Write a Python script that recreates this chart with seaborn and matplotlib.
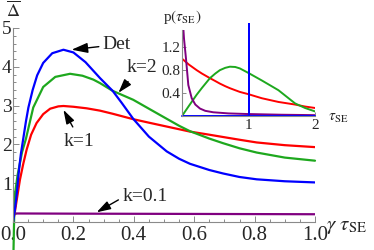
import matplotlib
matplotlib.use("Agg")
import matplotlib.pyplot as plt
import seaborn as sns
import pandas as pd
from matplotlib.ticker import MultipleLocator

# main panel: mean Delta vs gamma*tau_SE
det_x = [0, 0.006, 0.012, 0.02, 0.026, 0.034, 0.043, 0.051, 0.065, 0.08, 0.10, 0.13, 0.167, 0.20,
         0.24, 0.288, 0.33, 0.36, 0.398, 0.45, 0.509, 0.55, 0.586, 0.65, 0.696, 0.75, 0.807, 0.9, 1.0]
det_y = [0, 0.3, 0.7, 1.35, 1.75, 2.15, 2.6, 2.95, 3.4, 3.78, 4.1, 4.35, 4.44, 4.37,
         4.12, 3.71, 3.38, 3.07, 2.66, 2.2, 1.82, 1.63, 1.5, 1.34, 1.25, 1.16, 1.1, 1.05, 1.02]

k2_x = [0.001, 0.004, 0.007, 0.015, 0.03, 0.043, 0.067, 0.10, 0.14, 0.189, 0.23, 0.266, 0.288,
        0.33, 0.398, 0.45, 0.509, 0.55, 0.586, 0.65, 0.696, 0.75, 0.807, 0.9, 1.0]
k2_y = [-1.0, 0.2, 0.75, 1.2, 1.8, 2.15, 2.95, 3.48, 3.74, 3.82, 3.77, 3.67, 3.58,
        3.38, 3.15, 2.92, 2.66, 2.48, 2.34, 2.15, 2.03, 1.9, 1.79, 1.66, 1.58]

k1_x = [0, 0.006, 0.012, 0.023, 0.034, 0.045, 0.06, 0.078, 0.10, 0.123, 0.15, 0.167, 0.2, 0.244,
        0.288, 0.33, 0.398, 0.45, 0.509, 0.586, 0.65, 0.696, 0.75, 0.807, 0.9, 1.0]
k1_y = [0, 0.25, 0.55, 1.09, 1.5, 1.86, 2.25, 2.55, 2.78, 2.92, 2.98, 2.99, 2.97, 2.93,
        2.87, 2.79, 2.65, 2.56, 2.46, 2.33, 2.25, 2.19, 2.12, 2.05, 1.98, 1.93]

k01_x = [0, 0.001, 0.2, 0.5, 1.0]
k01_y = [0, 0.22, 0.215, 0.21, 0.2]

# inset: p(tau_SE)
p_x = [0, 0.1, 0.22, 0.3, 0.42, 0.5, 0.57, 0.65, 0.72, 0.8, 0.87, 1.0, 1.2, 1.45, 1.7, 1.85, 2.0]
p_k1 = [1.0, 0.9, 0.8, 0.74, 0.66, 0.61, 0.565, 0.52, 0.485, 0.45, 0.42, 0.38, 0.31, 0.245, 0.2, 0.165, 0.14]
p_k2 = [0, 0.17, 0.37, 0.49, 0.66, 0.74, 0.8, 0.84, 0.86, 0.855, 0.83, 0.75, 0.62, 0.45, 0.22, 0.14, 0.08]
p_k01_x = [0.015, 0.02, 0.03, 0.06, 0.095, 0.146, 0.2, 0.27, 0.35, 0.47, 0.7, 0.97, 1.5, 2.0]
p_k01_y = [1.6, 1.53, 1.35, 1.0, 0.54, 0.31, 0.2, 0.13, 0.09, 0.065, 0.045, 0.035, 0.022, 0.015]
p_det_x = [0, 1, 1, 1, 2]
p_det_y = [0, 0, 1.6, 0, 0]

BLUE = '#0000ff'
RED = '#ff0000'
GREEN = '#1ea81e'
PURPLE = '#800080'
GREY = '#8a8a8a'

sns.set_theme(style='white')
plt.rcParams['font.family'] = ['Liberation Serif', 'DejaVu Serif']
plt.rcParams['mathtext.fontset'] = 'stix'
plt.rcParams['xtick.direction'] = 'in'
plt.rcParams['ytick.direction'] = 'in'

fig = plt.figure(figsize=(3.74, 2.5), dpi=100)
ax = fig.add_axes([13 / 374, 28 / 250, 302 / 374, 194 / 250])
ax.patch.set_alpha(0)

lw = 1.6
sns.lineplot(x=k01_x, y=k01_y, color=PURPLE, lw=lw, estimator=None, sort=False, ax=ax)
sns.lineplot(x=k1_x, y=k1_y, color=RED, lw=lw, estimator=None, sort=False, ax=ax)
sns.lineplot(x=k2_x, y=k2_y, color=GREEN, lw=lw, estimator=None, sort=False, ax=ax, clip_on=False)
sns.lineplot(x=det_x, y=det_y, color=BLUE, lw=lw, estimator=None, sort=False, ax=ax)

ax.set_xlim(0, 1)
ax.set_ylim(0, 5)
for s in ['top', 'right']:
    ax.spines[s].set_visible(False)
for s in ['left', 'bottom']:
    ax.spines[s].set_color(GREY)
    ax.spines[s].set_linewidth(0.8)
ax.set_xticks([0, 0.2, 0.4, 0.6, 0.8, 1.0])
ax.set_xticklabels(['0.0', '0.2', '0.4', '0.6', '0.8', '1.0'])
ax.set_yticks([1, 2, 3, 4, 5])
ax.xaxis.set_minor_locator(MultipleLocator(0.05))
ax.yaxis.set_minor_locator(MultipleLocator(0.2))
ax.tick_params(axis='both', which='both', color=GREY, width=0.7, bottom=True, left=True)
ax.tick_params(axis='both', which='major', length=4)
ax.tick_params(axis='both', which='minor', length=2)
ax.tick_params(axis='x', labelsize=15, pad=3)
ax.tick_params(axis='y', labelsize=14, pad=1)
ax.set_xlabel('')
ax.set_ylabel('')

ax.text(1.035, -0.12, r'$\gamma\ \tau_{\rm SE}$', fontsize=15, ha='left', va='center', clip_on=False)
fig.text(13 / 374, 1 - 1 / 250, r'$\overline{\Delta}$', fontsize=13, ha='center', va='top')

arrow = dict(arrowstyle='-|>,head_length=0.7,head_width=0.22', color='black', lw=1.0, shrinkA=0, shrinkB=0)
ax.annotate('Det', xy=(0.194, 4.44), xytext=(0.295, 4.57), fontsize=14, ha='left', va='center', arrowprops=arrow)
ax.annotate('k=2', xy=(0.349, 3.33), xytext=(0.427, 3.97), fontsize=14, ha='center', va='center')
ax.annotate('', xy=(0.349, 3.33), xytext=(0.381, 3.62), arrowprops=arrow)
ax.annotate('k=1', xy=(0.167, 2.89), xytext=(0.219, 2.07), fontsize=14, ha='center', va='center')
ax.annotate('', xy=(0.167, 2.89), xytext=(0.198, 2.45), arrowprops=arrow)
ax.annotate('k=0.1', xy=(0.277, 0.25), xytext=(0.437, 0.65), fontsize=14, ha='center', va='center')
ax.annotate('', xy=(0.277, 0.25), xytext=(0.349, 0.57), arrowprops=arrow)

# inset
ax2 = fig.add_axes([182 / 374, 134 / 250, 133 / 374, 86 / 250])
ax2.patch.set_alpha(0)
lw2 = 1.4
sns.lineplot(x=p_x, y=p_k1, color=RED, lw=lw2, estimator=None, sort=False, ax=ax2)
sns.lineplot(x=p_x, y=p_k2, color=GREEN, lw=lw2, estimator=None, sort=False, ax=ax2)
sns.lineplot(x=p_k01_x, y=p_k01_y, color=PURPLE, lw=lw2, estimator=None, sort=False, ax=ax2)
sns.lineplot(x=p_det_x, y=p_det_y, color=BLUE, lw=lw2, estimator=None, sort=False, ax=ax2, clip_on=False)
ax2.set_xlim(0, 2)
ax2.set_ylim(0, 1.5)
for s in ['top', 'right']:
    ax2.spines[s].set_visible(False)
for s in ['left', 'bottom']:
    ax2.spines[s].set_color(GREY)
    ax2.spines[s].set_linewidth(0.8)
ax2.set_xticks([1, 2])
ax2.set_xticklabels(['1', '2'])
ax2.set_yticks([0.4, 0.8, 1.2])
ax2.set_yticklabels(['0.4', '0.8', '1.2'])
ax2.tick_params(axis='both', color=GREY, width=0.7, length=3, bottom=True, left=True, labelsize=11)
ax2.tick_params(axis='x', pad=2)
ax2.tick_params(axis='y', pad=1)
ax2.set_xlabel('')
ax2.set_ylabel('')
ax2.text(2.2, -0.04, r'$\tau_{\rm SE}$', fontsize=11, ha='left', va='center', clip_on=False)
ax2.text(0.0, 1.73, r'p$(\tau_{\rm SE})$', fontsize=11, ha='center', va='center', clip_on=False)

fig.savefig('out.png', dpi=100)
